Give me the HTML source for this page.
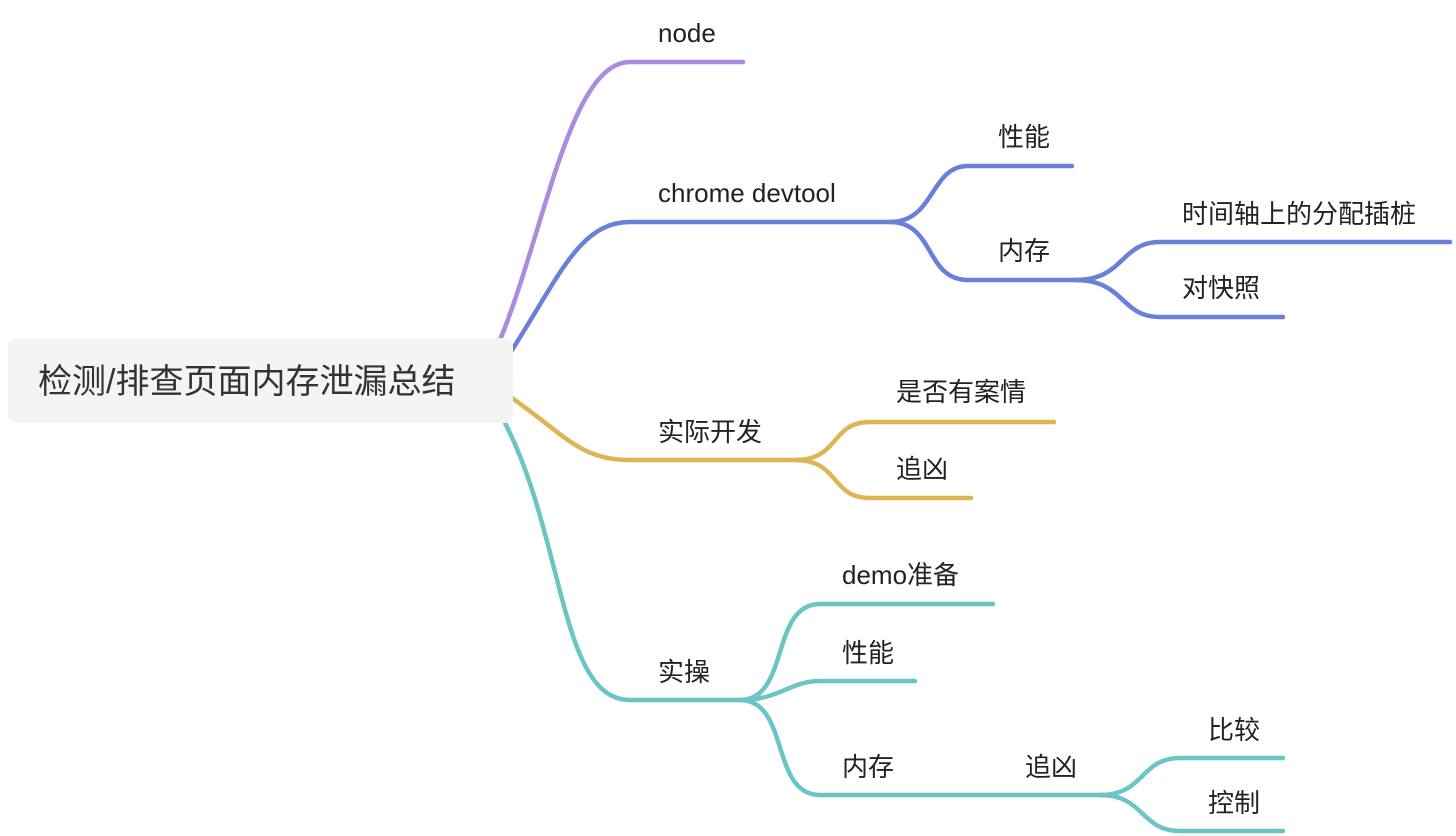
<!DOCTYPE html>
<html><head><meta charset="utf-8"><style>
html,body{margin:0;padding:0;background:#fff;}
svg{display:block}
text{font-family:"Liberation Sans","Noto Sans CJK SC",sans-serif;fill:#222;font-size:26px}
</style></head><body>
<svg width="1456" height="836" viewBox="0 0 1456 836" xmlns="http://www.w3.org/2000/svg">
<g fill="none" stroke-width="4.5" stroke-linecap="round">
<path d="M500,340 C545,230 570,62 630,62 L743,62" stroke="#A98BE0"/>
<path d="M512,350 C560,275 580,222 630,222 L895,222" stroke="#6B7FD8"/>
<path d="M890,222 C935,222 930,166 968,166 L1072,166" stroke="#6B7FD8"/>
<path d="M890,222 C935,222 925,280 968,280 L1085,280" stroke="#6B7FD8"/>
<path d="M1075,280 C1125,280 1120,242 1160,242 L1450,242" stroke="#6B7FD8"/>
<path d="M1075,280 C1125,280 1120,317 1160,317 L1283,317" stroke="#6B7FD8"/>
<path d="M512,398 C565,435 580,460 630,460 L805,460" stroke="#DDB557"/>
<path d="M795,460 C840,460 830,422 870,422 L1054,422" stroke="#DDB557"/>
<path d="M795,460 C840,460 830,498 870,498 L971,498" stroke="#DDB557"/>
<path d="M505,423 C565,540 560,700 630,700 L745,700" stroke="#6CC4C4"/>
<path d="M740,700 C790,700 770,604 820,604 L993,604" stroke="#6CC4C4"/>
<path d="M740,700 C780,700 790,681 820,681 L915,681" stroke="#6CC4C4"/>
<path d="M740,700 C790,700 770,795 820,795 L1110,795" stroke="#6CC4C4"/>
<path d="M1100,795 C1145,795 1140,758 1180,758 L1283,758" stroke="#6CC4C4"/>
<path d="M1100,795 C1145,795 1140,831 1180,831 L1283,831" stroke="#6CC4C4"/>
</g>
<rect x="8" y="338" width="505" height="85" rx="8" fill="#f4f4f4"/>
<text x="38" y="393" style="font-size:34px;fill:#333">检测/排查页面内存泄漏总结</text>
<text x="658" y="42">node</text>
<text x="658" y="202">chrome devtool</text>
<text x="998" y="146">性能</text>
<text x="998" y="260">内存</text>
<text x="1182" y="223">时间轴上的分配插桩</text>
<text x="1182" y="297">对快照</text>
<text x="658" y="441">实际开发</text>
<text x="896" y="401">是否有案情</text>
<text x="896" y="478">追凶</text>
<text x="658" y="681">实操</text>
<text x="842" y="584">demo准备</text>
<text x="842" y="662">性能</text>
<text x="842" y="776">内存</text>
<text x="1025" y="776">追凶</text>
<text x="1208" y="739">比较</text>
<text x="1208" y="812">控制</text>
</svg>
</body></html>
